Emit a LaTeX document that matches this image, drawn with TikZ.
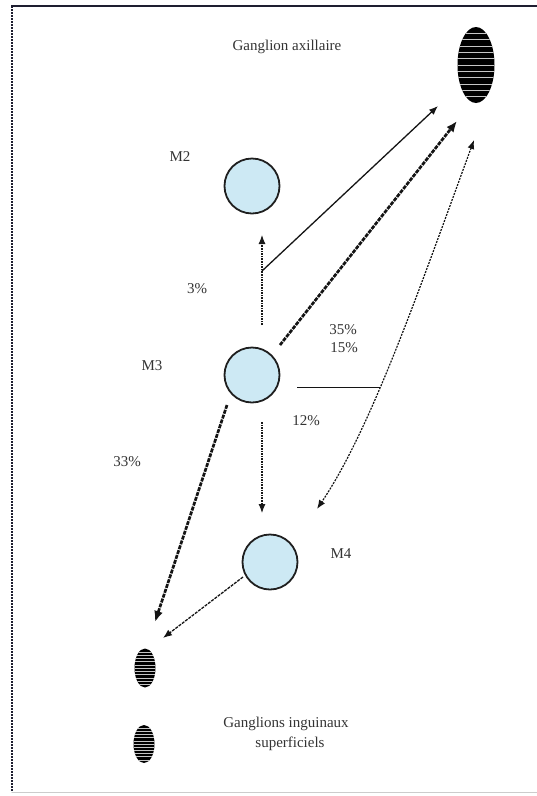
\documentclass[tikz,border=0pt]{standalone}
\usepackage{fontspec}
\setmainfont{Liberation Serif}
\usetikzlibrary{arrows.meta,shapes.geometric,calc}
\definecolor{nodeblue}{HTML}{CDE9F4}
\definecolor{txt}{HTML}{333333}
\definecolor{framec}{HTML}{1E1E30}
\begin{document}
\begin{tikzpicture}[x=1pt,y=-1pt,
  lbl/.style={font=\fontsize{15}{17}\selectfont, text=txt, inner sep=0pt},
  site/.style={circle, draw=black!88, line width=1.8pt, fill=nodeblue, minimum size=55pt, inner sep=0pt},
  gang/.style={ellipse, fill=black, inner sep=0pt,
    path picture={\foreach \k in {1,...,11}
      \draw[gray!45, line width=0.4pt]
        ($(path picture bounding box.north west)!\k/12!(path picture bounding box.south west)$) -- ++(60,0);}},
  tipS/.style={-{Latex[length=9pt,width=7pt]}},
  tipL/.style={-{Latex[length=11pt,width=9pt]}},
  dotln/.style={line width=1.1pt, dash pattern=on 1.6pt off 1pt, black!90},
  thin/.style={line width=1.3pt, black!92},
  thick/.style={line width=2.7pt, dash pattern=on 4pt off 1.1pt, black!92},
  thindash/.style={line width=1.3pt, dash pattern=on 3pt off 1.1pt, black!92},
  curv/.style={line width=1.2pt, dash pattern=on 2pt off 1.2pt, black!92}
]
\useasboundingbox (0,0) rectangle (537,796);
% frame
\draw[framec, line width=1.5pt] (11,6) -- (537,6);
\draw[framec, line width=1.6pt, dash pattern=on 2pt off 1pt] (12,6) -- (12,792);
\draw[gray!40, line width=1pt] (12,792) -- (537,792);

% nodes
\node[lbl] (tax) at (287,47) {Ganglion axillaire};
\node[gang, minimum width=37pt, minimum height=76pt] (gax) at (476,65) {};
\node[lbl] (lm2) at (180,157) {M2};
\node[site] (m2) at (252,186) {};
\node[lbl] (l3) at (197,289) {3\%};
\node[lbl] (l35) at (343,330) {35\%};
\node[lbl] (l15) at (344,348) {15\%};
\node[lbl] (lm3) at (152,366) {M3};
\node[site] (m3) at (252,375) {};
\node[lbl] (l12) at (306,421) {12\%};
\node[lbl] (l33) at (127,462) {33\%};
\node[site] (m4) at (270,562) {};
\node[lbl] (lm4) at (341,554) {M4};
\node[gang, minimum width=21pt, minimum height=39pt] (gi1) at (145,668) {};
\node[gang, minimum width=21pt, minimum height=38pt] (gi2) at (144,744) {};
\node[lbl] (tin1) at (286,724) {Ganglions inguinaux};
\node[lbl] (tin2) at (290,744) {superficiels};

% free ends
\coordinate (u1) at (262,325);
\coordinate (u2) at (262,235);
\coordinate (br) at (262,271);
\coordinate (tA) at (438,106);
\coordinate (s3) at (280,345);
\coordinate (tB) at (457,121);
\coordinate (cT) at (474,140);
\coordinate (cB) at (317,509);
\coordinate (hs) at (297,384);
\coordinate (s33) at (227,405);
\coordinate (t33) at (155,622);
\coordinate (d1) at (262,422);
\coordinate (d2) at (262,513);
\coordinate (s4) at (243,577);
\coordinate (t4) at (163,638);

% connectors
\draw[dotln, tipS] (u1) -- (u2);
\draw[thin, tipS] (br) -- (tA);
\draw[thick, tipL] (s3) -- (tB);
\draw[curv, {Latex[length=9pt,width=7pt]}-{Latex[length=9pt,width=7pt]}]
  (cT) .. controls (419,290) and (371,429) .. (cB) coordinate[pos=0.6] (jn);
\draw[thin] (jn -| hs) -- (jn);
\draw[thick, tipL] (s33) -- (t33);
\draw[dotln, tipS] (d1) -- (d2);
\draw[thindash, tipS] (s4) -- (t4);
\end{tikzpicture}
\end{document}
